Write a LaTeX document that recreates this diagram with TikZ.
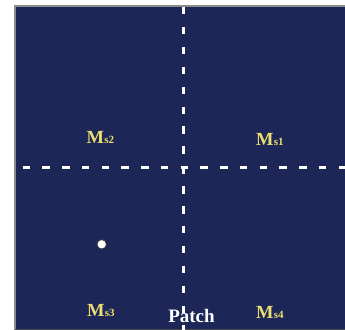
\documentclass[tikz,border=0pt]{standalone}
\usepackage{fontspec}
\setmainfont{Liberation Serif}
\definecolor{panelblue}{RGB}{28,39,88}
\definecolor{labelyellow}{RGB}{236,222,112}
\definecolor{frame}{RGB}{140,140,140}
\tikzset{
  gridline/.style={draw=white, line width=3.6pt},
  mlabel/.style={text=labelyellow, inner sep=0pt, anchor=base west, font=\bfseries},
  patchlabel/.style={text=white, inner sep=0pt, anchor=base, font=\fontsize{19}{19}\selectfont\bfseries},
}
\newcommand{\Mlab}[1]{{\fontsize{18.5}{18.5}\selectfont M}\kern0.3pt{\fontsize{11}{11}\selectfont #1}}
\begin{document}
\begin{tikzpicture}[x=1pt,y=1pt]
  \useasboundingbox (0,0) rectangle (345,-329);
  % background panel
  \fill[white] (0,0) rectangle (345,-329);
  \fill[panelblue] (15,-6) rectangle (348,-332);
  \draw[frame, line width=1.3pt] (15,-332) -- (15,-6) -- (348,-6);
  \draw[black!70, line width=1pt] (15,-329) -- (348,-329);
  % quadrant labels
  \node[mlabel] (ms2) at (86.5,-143) {\Mlab{s2}};
  \node[mlabel] (ms1) at (256,-145.5) {\Mlab{s1}};
  \node[mlabel] (ms3) at (87,-316.5) {\Mlab{s3}};
  \node[mlabel] (ms4) at (256,-318) {\Mlab{s4}};
  \node[patchlabel] (patch) at (191.5,-322) {Patch};
  % dashed dividers
  \coordinate (hstart) at (22.7,-167.3);
  \coordinate (hend) at (350,-167.3);
  \coordinate (vstart) at (183.6,-7);
  \coordinate (vend) at (183.6,-335);
  \draw[gridline, dash pattern=on 7.5pt off 12.25pt] (hstart) -- (hend);
  \draw[gridline, dash pattern=on 7.5pt off 12.4pt] (vstart) -- (vend);
  % sample point
  \node[circle, fill=white, draw=black!80, line width=0.8pt, minimum size=9.5pt, inner sep=0pt] (pt) at (101.7,-244.3) {};
\end{tikzpicture}
\end{document}
